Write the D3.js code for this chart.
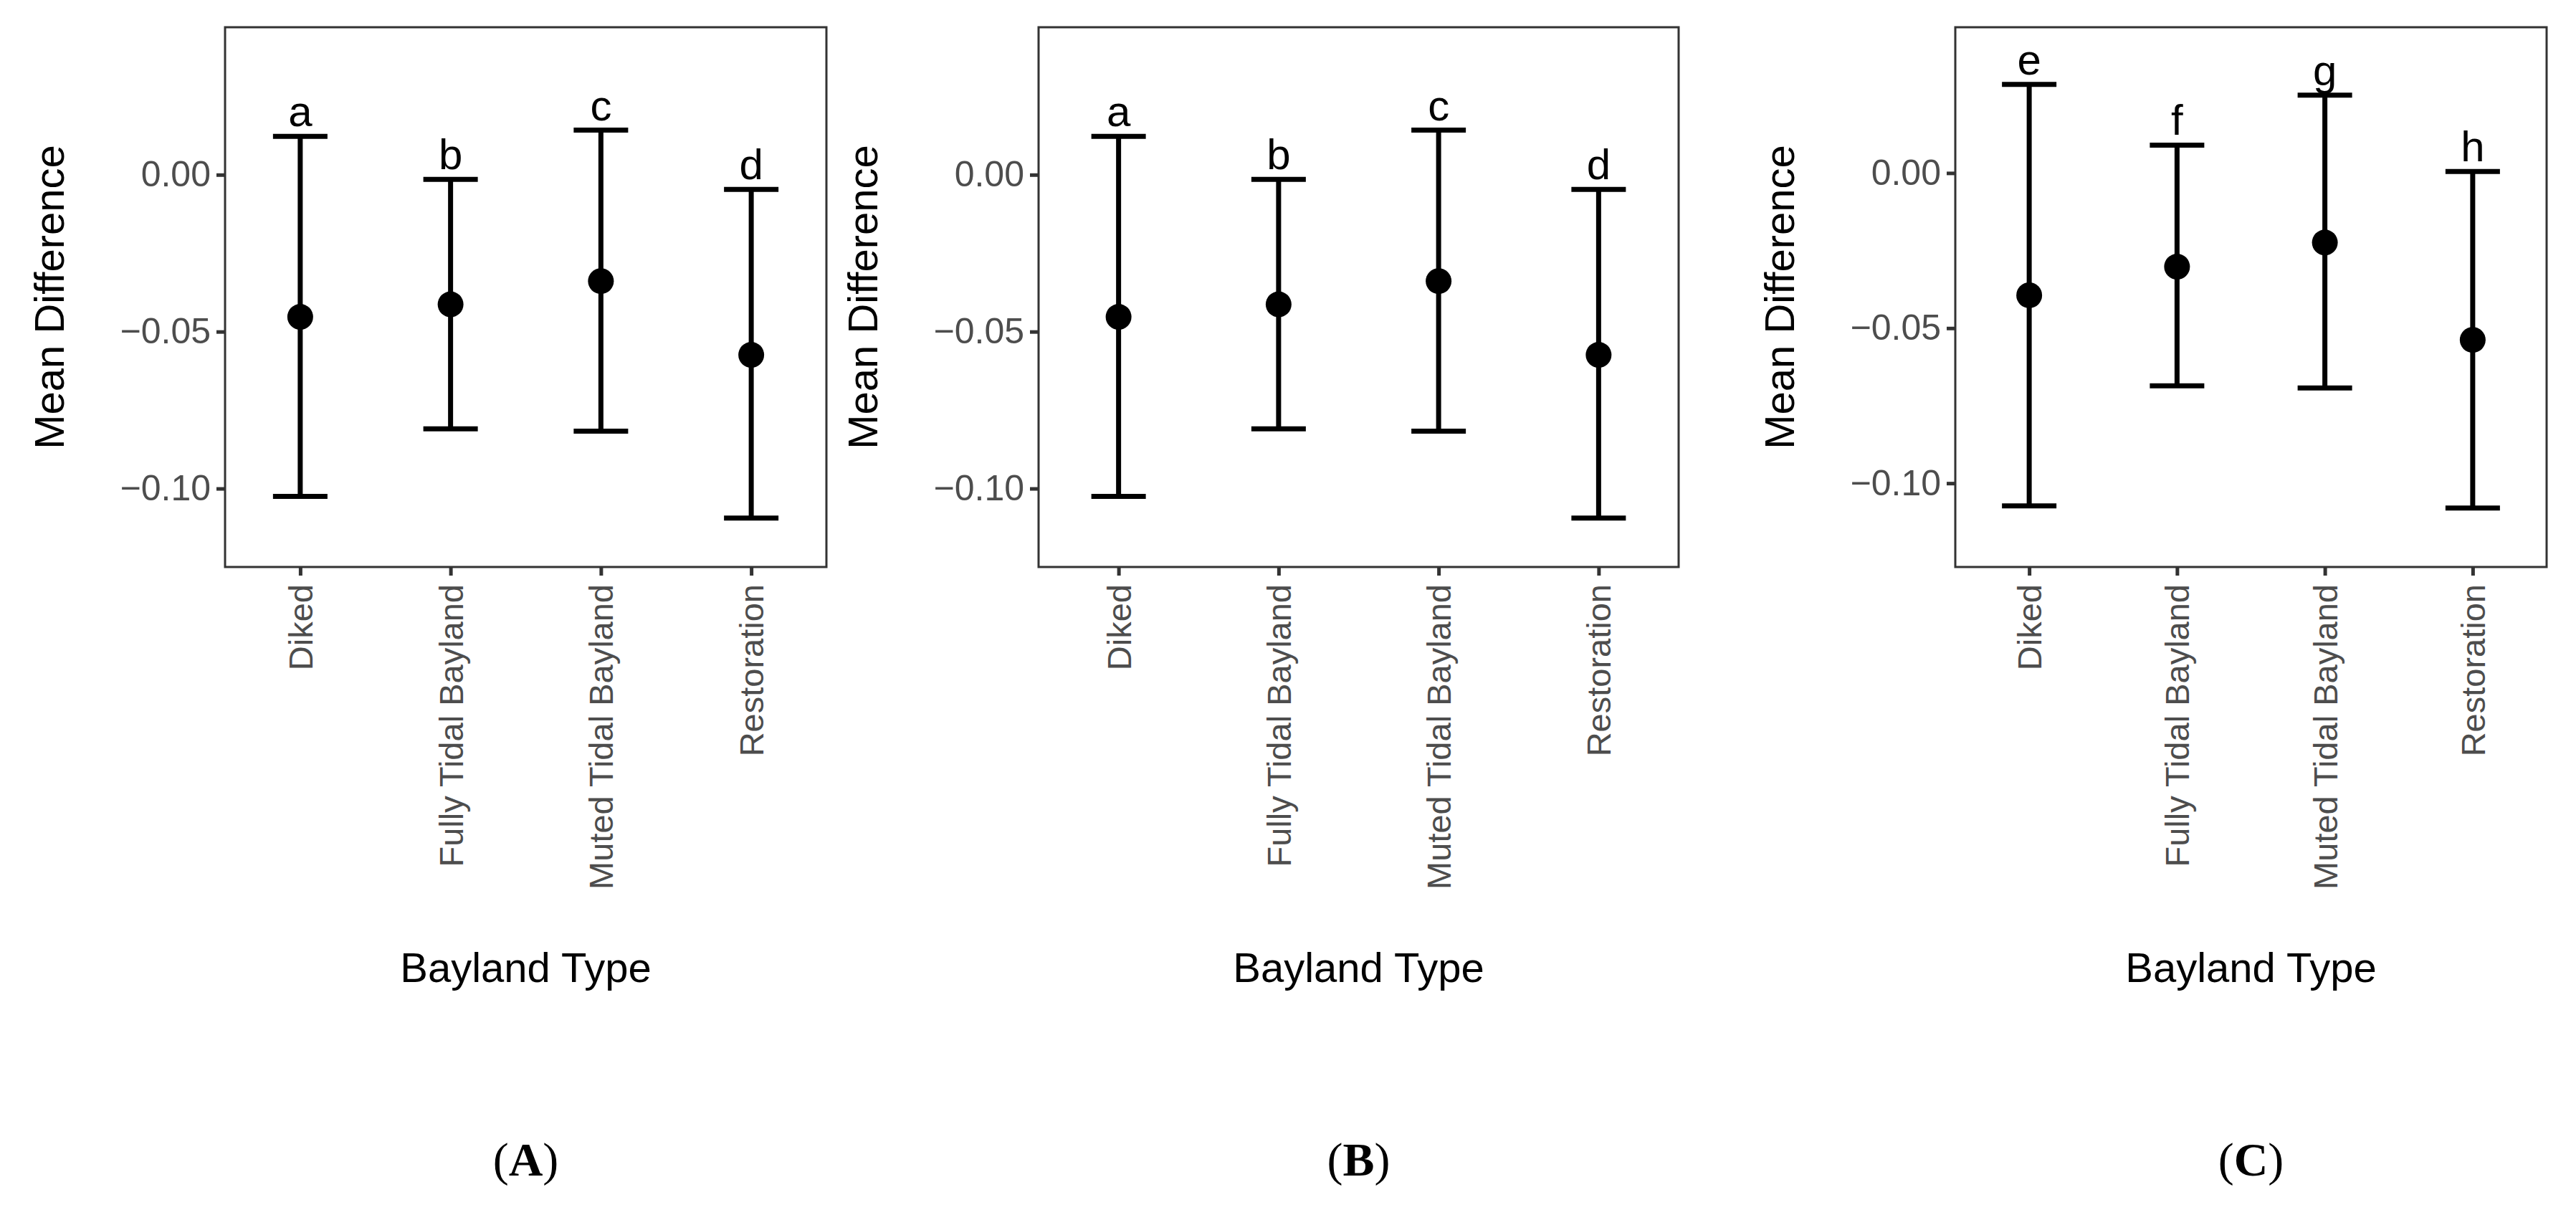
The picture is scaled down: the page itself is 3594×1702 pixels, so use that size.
<!DOCTYPE html>
<html><head><meta charset="utf-8">
<script src="https://cdn.jsdelivr.net/npm/d3@7"></script>
<style>body{margin:0;background:#fff}</style>
</head><body>
<script>
// categories and values
const categories = ["Diked", "Fully Tidal Bayland", "Muted Tidal Bayland", "Restoration"];
const meanA = [-0.0453, -0.0413, -0.0339, -0.0574];
const upperA = [0.0122, -0.0015, 0.0142, -0.0047];
const lowerA = [-0.1025, -0.081, -0.0817, -0.1094];
const lettersA = ["a", "b", "c", "d"];
const meanB = [-0.0453, -0.0413, -0.0339, -0.0574];
const upperB = [0.0122, -0.0015, 0.0142, -0.0047];
const lowerB = [-0.1025, -0.081, -0.0817, -0.1094];
const lettersB = ["a", "b", "c", "d"];
const meanC = [-0.0394, -0.0302, -0.0224, -0.0538];
const upperC = [0.0286, 0.009, 0.0251, 0.0005];
const lowerC = [-0.1073, -0.0686, -0.0693, -0.108];
const lettersC = ["e", "f", "g", "h"];
const yTicks = [0, -0.05, -0.10];

const svg = d3.select("body").append("svg").attr("width", 3594).attr("height", 1702);

function panel(x0, x1, yDom, mean, upper, lower, letters, tag) {
    const top = 38, bottom = 791;
    const x = d3.scalePoint().domain(categories).range([x0, x1]).padding(0.5);
    const y = d3.scaleLinear().domain(yDom).range([bottom, top]);
    const g = svg.append("g");
    g.append("rect").attr("x", x0).attr("y", top).attr("width", x1 - x0).attr("height", bottom - top)
        .attr("fill", "none").attr("stroke", "#333").attr("stroke-width", 3);
    const ya = g.append("g").attr("transform", `translate(${x0},0)`)
        .call(d3.axisLeft(y).tickValues(yTicks).tickFormat(d3.format(".2f")).tickSize(12).tickPadding(8));
    ya.select(".domain").remove();
    ya.selectAll("line").attr("stroke", "#333").attr("stroke-width", 5);
    ya.selectAll("text").attr("font-family", "Arial, Liberation Sans").attr("font-size", 50).attr("fill", "#4d4d4d")
        .text(d => d3.format(".2f")(d).replace("-", "\u2212"));
    const xa = g.append("g").attr("transform", `translate(0,${bottom})`)
        .call(d3.axisBottom(x).tickSize(12).tickPadding(8));
    xa.select(".domain").remove();
    xa.selectAll("line").attr("stroke", "#333").attr("stroke-width", 5);
    xa.selectAll("text").attr("font-family", "Arial, Liberation Sans").attr("font-size", 47).attr("fill", "#4d4d4d")
        .attr("transform", "rotate(-90)").attr("text-anchor", "end").attr("dy", "0.35em")
        .attr("x", -24).attr("y", 0);
    categories.forEach((c, i) => {
        const cx = x(c);
        g.append("line").attr("x1", cx).attr("x2", cx).attr("y1", y(upper[i])).attr("y2", y(lower[i]))
            .attr("stroke", "#000").attr("stroke-width", 7);
        [upper[i], lower[i]].forEach(v => g.append("line").attr("x1", cx - 38).attr("x2", cx + 38)
            .attr("y1", y(v)).attr("y2", y(v)).attr("stroke", "#000").attr("stroke-width", 7));
        g.append("circle").attr("cx", cx).attr("cy", y(mean[i])).attr("r", 18).attr("fill", "#000");
        g.append("text").attr("x", cx).attr("y", y(upper[i]) - 14).attr("text-anchor", "middle")
            .attr("font-family", "Arial, Liberation Sans").attr("font-size", 60).text(letters[i]);
    });
    g.append("text").attr("transform", `translate(${x0 - 245},${(top + bottom) / 2}) rotate(-90)`)
        .attr("text-anchor", "middle").attr("dy", "0.35em").attr("font-family", "Arial, Liberation Sans")
        .attr("font-size", 58).text("Mean Difference");
    g.append("text").attr("x", (x0 + x1) / 2).attr("y", 1370).attr("text-anchor", "middle")
        .attr("font-family", "Arial, Liberation Sans").attr("font-size", 58).text("Bayland Type");
    const t = g.append("text").attr("x", (x0 + x1) / 2).attr("y", 1640).attr("text-anchor", "middle")
        .attr("font-family", "Liberation Serif, Times New Roman").attr("font-size", 66);
    t.append("tspan").text("(");
    t.append("tspan").attr("font-weight", "bold").text(tag);
    t.append("tspan").text(")");
}

panel(314, 1153, [-0.125, 0.047], meanA, upperA, lowerA, lettersA, "A");
panel(1449, 2342, [-0.125, 0.047], meanB, upperB, lowerB, lettersB, "B");
panel(2728, 3553, [-0.127, 0.047], meanC, upperC, lowerC, lettersC, "C");
</script>
</body></html>
